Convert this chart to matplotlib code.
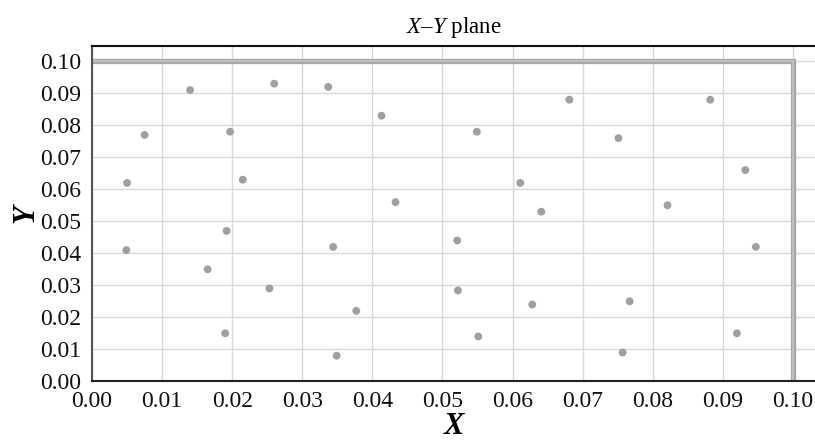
import matplotlib
matplotlib.use("Agg")
import matplotlib.pyplot as plt

# ---------------------- DATA ----------------------
# points
x_vals = [0.0140, 0.0260, 0.0337, 0.0075, 0.0197, 0.0050, 0.0215,
          0.0413, 0.0549, 0.0611, 0.0433, 0.0641,
          0.0681, 0.0882, 0.0751, 0.0932, 0.0821,
          0.0049, 0.0192, 0.0165, 0.0253, 0.0190,
          0.0344, 0.0521, 0.0377, 0.0522, 0.0628, 0.0551, 0.0349,
          0.0947, 0.0767, 0.0920, 0.0757]
y_vals = [0.091, 0.093, 0.092, 0.077, 0.078, 0.062, 0.063,
          0.083, 0.078, 0.062, 0.056, 0.053,
          0.088, 0.088, 0.076, 0.066, 0.055,
          0.041, 0.047, 0.035, 0.029, 0.015,
          0.042, 0.044, 0.022, 0.0284, 0.024, 0.014, 0.008,
          0.042, 0.025, 0.015, 0.009]

# boundary of the plane
boundary = 0.10
ticks = [0.00, 0.01, 0.02, 0.03, 0.04, 0.05, 0.06, 0.07, 0.08, 0.09, 0.10]

plt.rcParams["font.family"] = ["Liberation Serif", "DejaVu Serif"]
plt.rcParams["mathtext.fontset"] = "custom"
plt.rcParams["mathtext.it"] = "Liberation Serif:italic"
plt.rcParams["mathtext.rm"] = "Liberation Serif"

fig = plt.figure(figsize=(8.15, 4.41), dpi=100)
ax = fig.add_axes([92 / 815, 1 - 381.3 / 441, 1 - 92 / 815, (381.3 - 46) / 441])

ax.set_xlim(0, 0.10314)
ax.set_ylim(0, 0.10478)
ax.set_xticks(ticks)
ax.set_yticks(ticks)
ax.set_xticklabels([f"{t:.2f}" for t in ticks])
ax.set_yticklabels([f"{t:.2f}" for t in ticks])
ax.tick_params(length=0, labelsize=17, colors="#111111")
ax.tick_params(axis="y", pad=8)
ax.tick_params(axis="x", pad=7)

ax.grid(True, color="#d9d9d9", linewidth=1.0)
ax.set_axisbelow(True)

ax.spines["right"].set_visible(False)
ax.spines["top"].set_color("#111111")
ax.spines["top"].set_linewidth(1.5)
ax.spines["bottom"].set_color("#222222")
ax.spines["bottom"].set_linewidth(1.5)
ax.spines["left"].set_color("#555555")
ax.spines["left"].set_linewidth(1.5)

# gray boundary lines (outer darker, inner lighter)
ax.plot([0, boundary, boundary], [boundary, boundary, 0], color="#a8a8a8",
        linewidth=3.8, solid_joinstyle="miter", zorder=2)
ax.plot([0, boundary, boundary], [boundary, boundary, 0], color="#c4c4c4",
        linewidth=1.2, solid_joinstyle="miter", zorder=2)

ax.scatter(x_vals, y_vals, s=32, color="#a0a0a0", edgecolors="none", zorder=3)

ax.set_title(r"$X$–$Y$ plane", fontsize=16.5, pad=9)
ax.set_xlabel("X", fontsize=22, fontweight="bold", fontstyle="italic", labelpad=0)
ax.set_ylabel("Y", fontsize=22, fontweight="bold", fontstyle="italic")
ax.yaxis.set_label_coords(-0.072, 0.5)

plt.savefig("out.png", dpi=100)
